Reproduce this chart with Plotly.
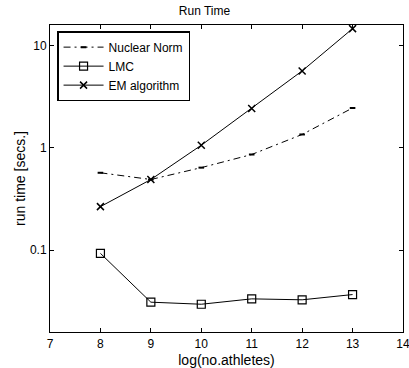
import plotly.graph_objects as go

x_vals = [8, 9, 10, 11, 12, 13]
nuclear_norm = [0.57, 0.49, 0.64, 0.86, 1.35, 2.45]
lmc = [0.093, 0.031, 0.0296, 0.0334, 0.0327, 0.0368]
em_algorithm = [0.266, 0.49, 1.06, 2.42, 5.64, 14.6]
x_ticks = [7, 8, 9, 10, 11, 12, 13, 14]
y_ticks = [0.1, 1, 10]
y_tick_labels = ["0.1", "1", "10"]

font_family = "Liberation Sans, Arial, sans-serif"

fig = go.Figure()
fig.add_trace(go.Scatter(
    x=x_vals, y=nuclear_norm, name="Nuclear Norm", mode="lines+markers",
    line=dict(color="black", width=1, dash="7px,4px,2px,4px"),
    marker=dict(symbol="line-ew-open", size=4, line=dict(color="black", width=2)),
))
fig.add_trace(go.Scatter(
    x=x_vals, y=lmc, name="LMC", mode="lines+markers",
    line=dict(color="black", width=1),
    marker=dict(symbol="square-open", size=8, color="black", line=dict(color="black", width=1.2)),
))
fig.add_trace(go.Scatter(
    x=x_vals, y=em_algorithm, name="EM algorithm", mode="lines+markers",
    line=dict(color="black", width=1),
    marker=dict(symbol="x-thin-open", size=7, line=dict(color="black", width=1.5)),
))

fig.update_layout(
    width=409, height=368,
    margin=dict(l=50, r=6, t=25, b=36),
    paper_bgcolor="white", plot_bgcolor="white",
    font=dict(family=font_family, size=12, color="black"),
    title=dict(text="Run Time", x=0.5, xanchor="center", y=0.971, yanchor="middle",
               font=dict(size=12)),
    showlegend=True,
    legend=dict(x=0.02, y=0.98, xanchor="left", yanchor="top",
                bgcolor="white", bordercolor="black", borderwidth=1.5,
                font=dict(size=12), tracegroupgap=0, itemwidth=40),
    xaxis=dict(range=[7, 14], tickvals=x_ticks, showgrid=False, zeroline=False,
               showline=True, linecolor="black", linewidth=1, mirror="ticks",
               ticks="inside", ticklen=4, tickcolor="black", ticklabelstandoff=1,
               automargin=False, ticklabeloverflow="allow",
               title=dict(text="log(no.athletes)", standoff=7)),
    yaxis=dict(type="log", range=[-1.8, 1.2], tickvals=y_ticks, ticktext=y_tick_labels,
               showgrid=False, zeroline=False, automargin=False,
               showline=True, linecolor="black", linewidth=1, mirror="ticks",
               ticks="inside", ticklen=4, tickcolor="black",
               title=dict(text="run time [secs.]", standoff=1)),
)

fig.write_html("out.html", config={"displayModeBar": False},
               post_script="document.body.style.margin='0';")
